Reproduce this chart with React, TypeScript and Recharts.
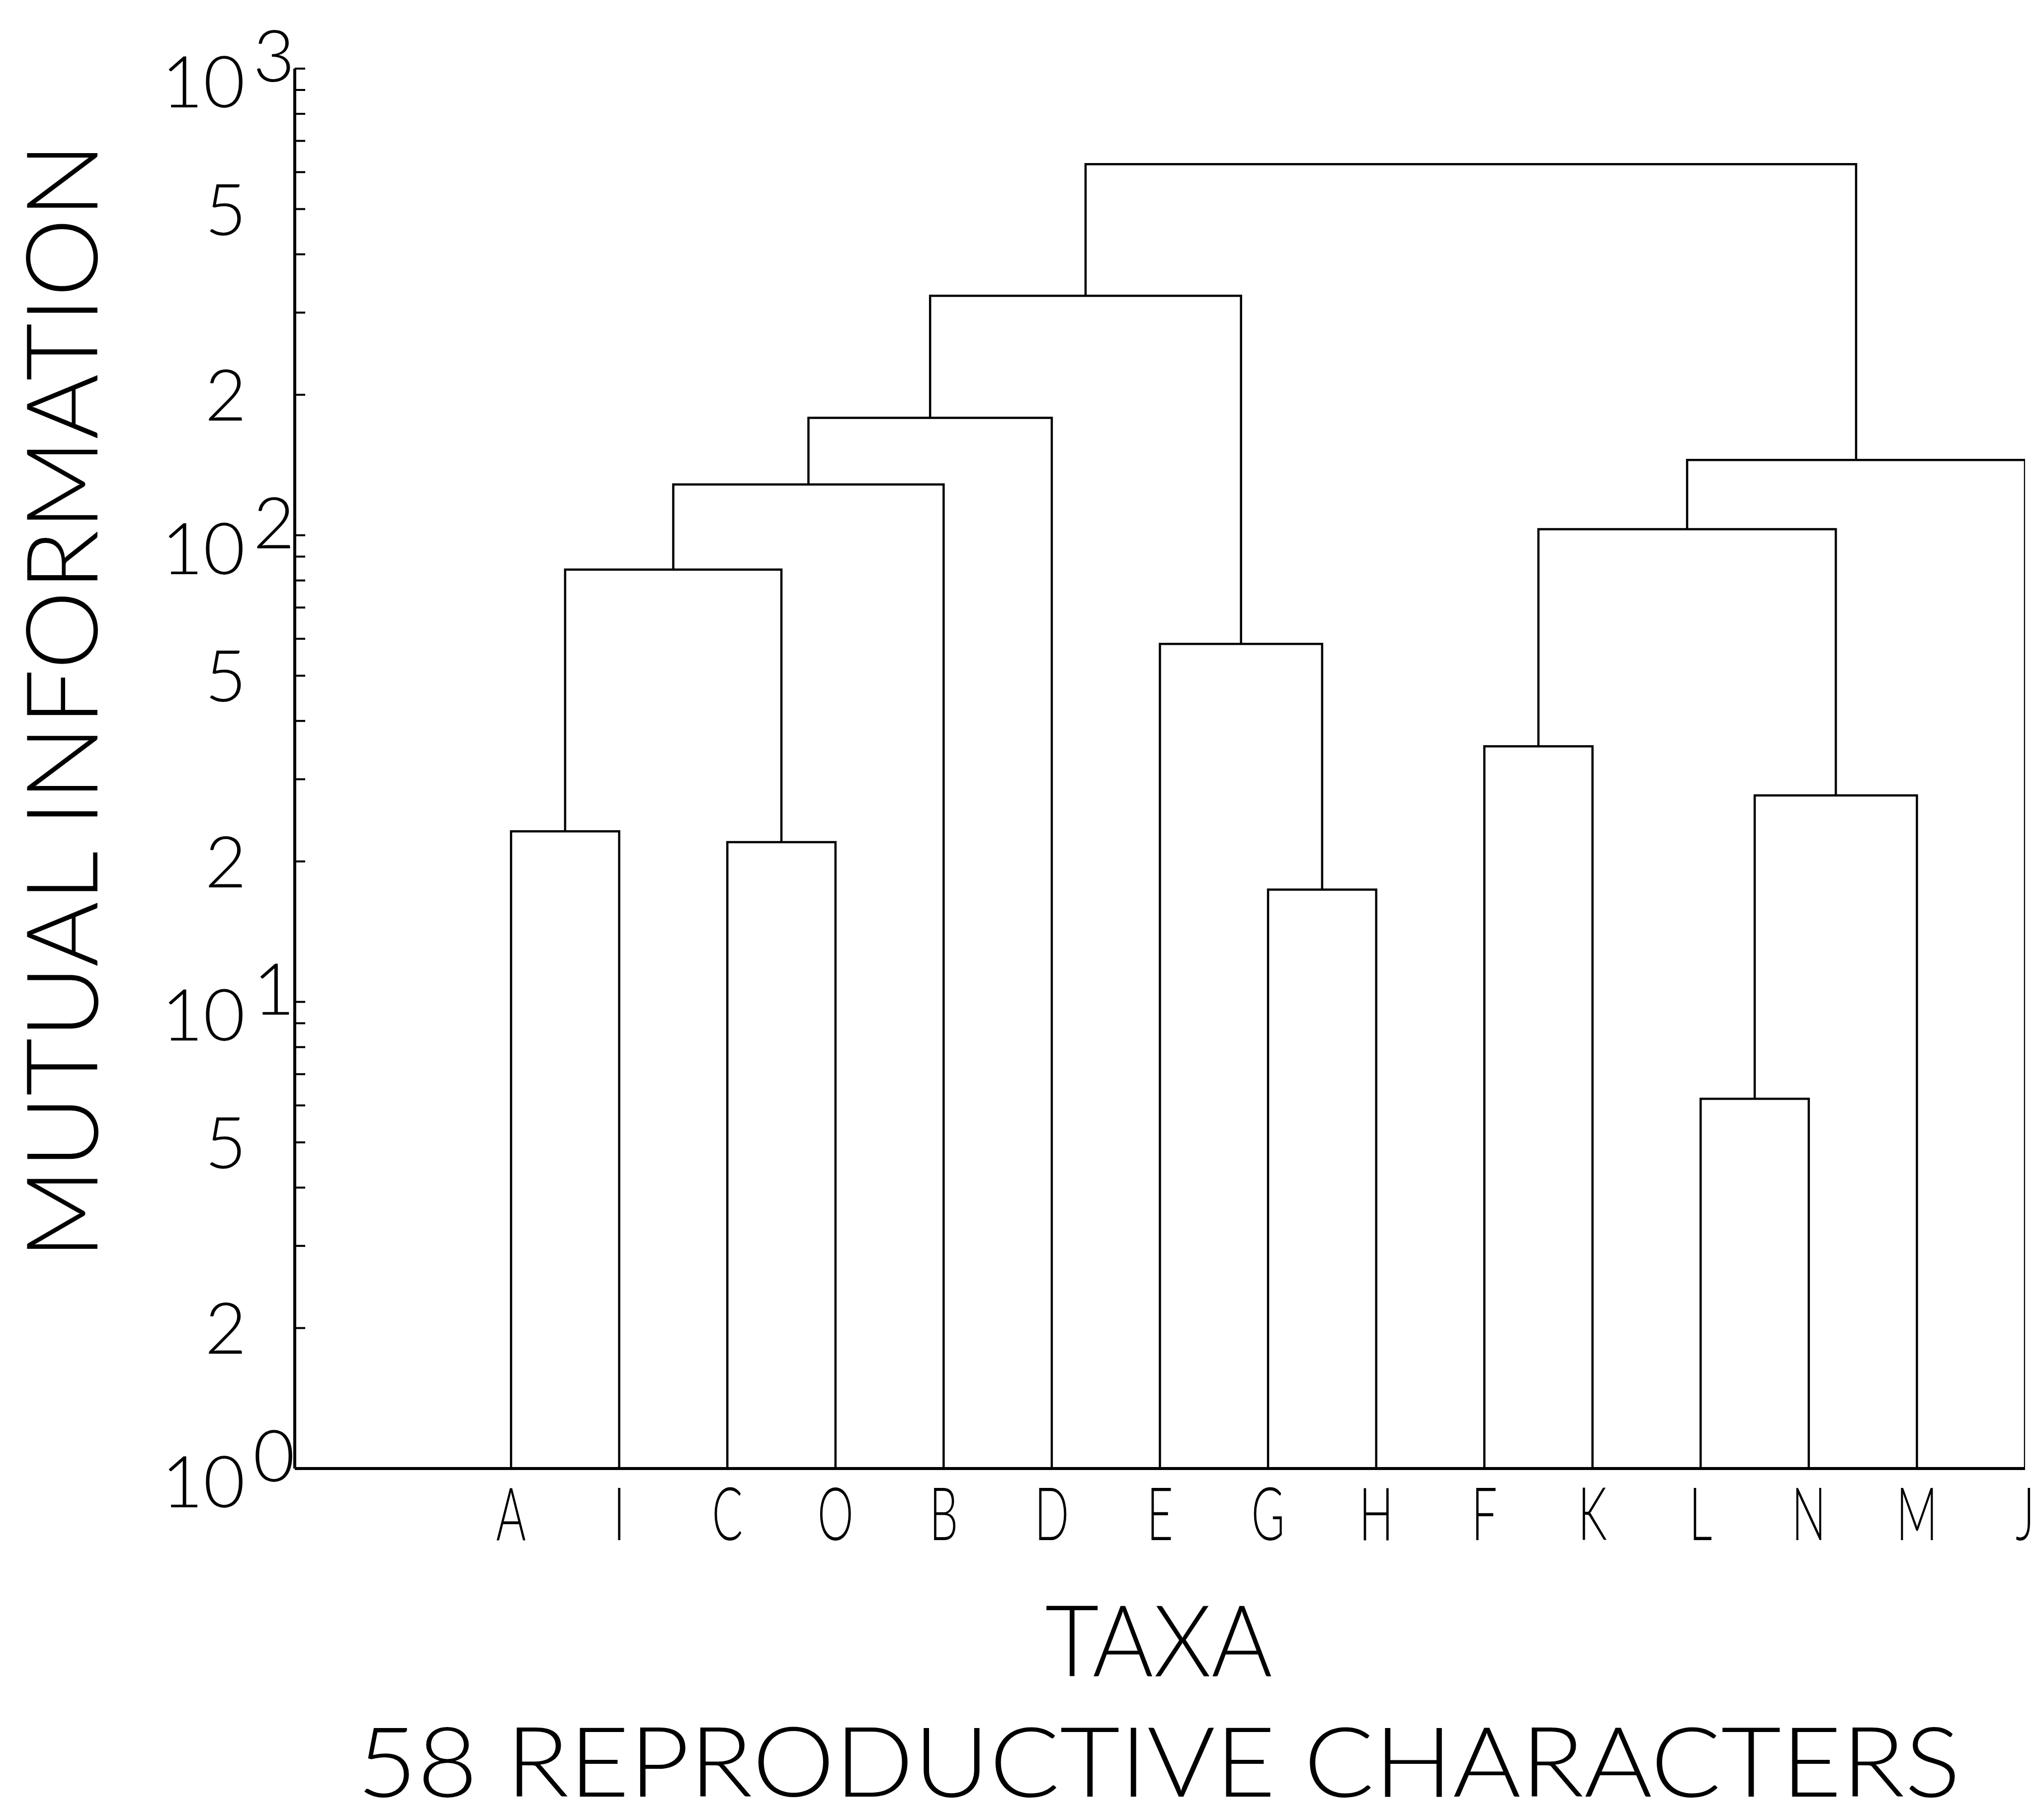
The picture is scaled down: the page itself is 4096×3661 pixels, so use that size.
import { LineChart, Line, XAxis, YAxis } from 'recharts';

const taxa = ['A', 'I', 'C', 'O', 'B', 'D', 'E', 'G', 'H', 'F', 'K', 'L', 'N', 'M', 'J'];

// merge i joins two members (a taxon, or an earlier cluster c1..c14) at mergeHeight[i]
const mergeLeft = ['A', 'C', 'c1', 'c3', 'c4', 'G', 'E', 'c5', 'F', 'L', 'c10', 'c9', 'c12', 'c8'];
const mergeRight = ['I', 'O', 'c2', 'B', 'D', 'H', 'c6', 'c7', 'K', 'N', 'M', 'c11', 'J', 'c13'];
const mergeHeight = [23.2, 22.0, 84.4, 128.5, 178.5, 17.4, 58.5, 326, 35.3, 6.2, 27.7, 103, 145, 624];

const yTicks = [
  1, 2, 3, 4, 5, 6, 7, 8, 9,
  10, 20, 30, 40, 50, 60, 70, 80, 90,
  100, 200, 300, 400, 500, 600, 700, 800, 900,
  1000,
];
const yLabelled = [2, 5, 20, 50, 200, 500];
const yDecades = [1, 10, 100, 1000];

const FONT = "Lato, 'DejaVu Sans', sans-serif";
const WEIGHT = 300;

// turn the merge list into one U-shaped polyline per merge
const pos: Record<string, { x: number; h: number }> = {};
taxa.forEach((t, i) => {
  pos[t] = { x: i, h: 1 };
});
const links = mergeHeight.map((h, i) => {
  const l = pos[mergeLeft[i]];
  const r = pos[mergeRight[i]];
  pos[`c${i + 1}`] = { x: (l.x + r.x) / 2, h };
  return [
    { x: l.x, y: l.h },
    { x: l.x, y: h },
    { x: r.x, y: h },
    { x: r.x, y: r.h },
  ];
});

const YTick = (props: any) => {
  const { x, y, payload } = props;
  const v = payload.value;
  const dec = yDecades.indexOf(v);
  return (
    <g>
      <line x1={x} x2={x + 21} y1={y} y2={y} stroke="#000" strokeWidth={4} />
      {dec >= 0 && (
        <>
          <text x={x - 100} y={y + 26 + 52} textAnchor="end" fontSize={145} fontFamily={FONT} fontWeight={WEIGHT} fill="#000">
            10
          </text>
          <text x={x - 84} y={y - 26 + 52} textAnchor="start" fontSize={145} fontFamily={FONT} fontWeight={WEIGHT} fill="#000">
            {dec}
          </text>
        </>
      )}
      {yLabelled.includes(v) && (
        <text x={x - 97} y={y + 52} textAnchor="end" fontSize={145} fontFamily={FONT} fontWeight={WEIGHT} fill="#000">
          {String(v)[0]}
        </text>
      )}
    </g>
  );
};

const XTick = (props: any) => {
  const { x, y, payload } = props;
  return (
    <text
      transform={`translate(${x},${y + 144}) scale(0.62,1)`}
      textAnchor="middle"
      fontSize={148}
      fontFamily={FONT}
      fontWeight={WEIGHT}
      fill="#000"
    >
      {taxa[payload.value]}
    </text>
  );
};

export default function App() {
  return (
    <div style={{ position: 'absolute', left: 0, top: 0, width: 4096, height: 3661, background: '#fff' }}>
      <LineChart width={4096} height={3661} margin={{ top: 138, right: 22, bottom: 0, left: 0 }}>
        <XAxis
          type="number"
          dataKey="x"
          domain={[-2, 14]}
          ticks={taxa.map((_, i) => i)}
          interval={0}
          height={707}
          tickSize={0}
          tickMargin={0}
          tick={<XTick />}
          axisLine={{ stroke: '#000', strokeWidth: 6 }}
          allowDataOverflow
        />
        <YAxis
          type="number"
          scale="log"
          domain={[1, 1000]}
          ticks={yTicks}
          interval={0}
          width={593}
          tickSize={0}
          tickMargin={0}
          tick={<YTick />}
          axisLine={{ stroke: '#000', strokeWidth: 6 }}
          allowDataOverflow
        />
        {links.map((d, i) => (
          <Line
            key={i}
            data={d}
            dataKey="y"
            type="linear"
            stroke="#000"
            strokeWidth={4.5}
            dot={false}
            isAnimationActive={false}
          />
        ))}
      </LineChart>
      <svg width={4096} height={3661} style={{ position: 'absolute', left: 0, top: 0, pointerEvents: 'none' }}>
        <text
          transform="translate(196,1410) rotate(-90)"
          textAnchor="middle"
          textLength={2246}
          lengthAdjust="spacingAndGlyphs"
          fontSize={200}
          fontFamily={FONT}
          fontWeight={WEIGHT}
          fill="#000"
        >
          MUTUAL INFORMATION
        </text>
        <text
          x={2331}
          y={3372}
          textAnchor="middle"
          textLength={457}
          lengthAdjust="spacingAndGlyphs"
          fontSize={200}
          fontFamily={FONT}
          fontWeight={WEIGHT}
          fill="#000"
        >
          TAXA
        </text>
        <text
          x={2331}
          y={3614}
          textAnchor="middle"
          textLength={3226}
          lengthAdjust="spacingAndGlyphs"
          fontSize={196}
          fontFamily={FONT}
          fontWeight={WEIGHT}
          fill="#000"
        >
          58 REPRODUCTIVE CHARACTERS
        </text>
      </svg>
    </div>
  );
}
